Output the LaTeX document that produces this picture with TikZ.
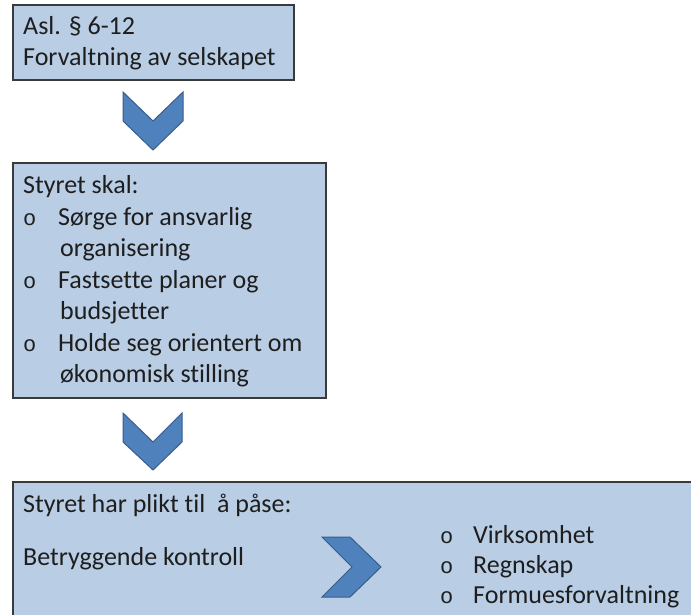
\documentclass[tikz,border=0pt]{standalone}
\usepackage{fontspec}
\setmainfont{Carlito}[Ligatures=NoCommon]
\newfontfamily\bulletfont{Liberation Mono}
\definecolor{boxfill}{HTML}{B9CDE5}
\definecolor{boxline}{HTML}{3A3A3A}
\definecolor{chevfill}{HTML}{4F81BD}
\definecolor{chevline}{HTML}{385D8A}
\definecolor{ink}{HTML}{1E1E1E}
\tikzset{
  panel/.style={draw=boxline, fill=boxfill, line width=1.5pt},
  chev/.style={draw=chevline, fill=chevfill, line width=1pt, line join=miter},
  txt/.style={anchor=base west, inner sep=0pt, text=ink, font=\fontsize{26}{31.5}\selectfont},
  bul/.style={anchor=base west, inner sep=0pt, text=ink, font=\bulletfont\fontsize{22}{24}\selectfont},
}
\begin{document}
\begin{tikzpicture}[x=1pt, y=-1pt]
\clip (0,0) rectangle (691,615);
\fill[white] (0,0) rectangle (691,615);

% first panel
\draw[panel] (13,5) rectangle (294,80);
\node[txt] (a1) at (23,34.5) {Asl. § 6-12};
\node[txt] (a2) at (23,66) {Forvaltning av selskapet};

% down chevron 1
\draw[chev] (123,92) -- (153,121) -- (183,92) -- (183,121) -- (153,150) -- (123,121) -- cycle;

% second panel
\draw[panel] (13,163) rectangle (326,398);
\node[txt] (b0) at (23,193.5) {Styret skal:};
\node[bul] (o1) at (23,225) {o};
\node[txt] (b1) at (58,225) {Sørge for ansvarlig};
\node[txt] (b1b) at (60,256.5) {organisering};
\node[bul] (o2) at (23,288) {o};
\node[txt] (b2) at (58,288) {Fastsette planer og};
\node[txt] (b2b) at (60,319.5) {budsjetter};
\node[bul] (o3) at (23,351) {o};
\node[txt] (b3) at (58,351) {Holde seg orientert om};
\node[txt] (b3b) at (60,382.5) {økonomisk stilling};

% down chevron 2
\draw[chev] (123,413) -- (153,442) -- (182,413) -- (182,442) -- (153,470) -- (123,442) -- cycle;

% third panel (runs past the right and bottom edges)
\draw[panel] (13,482) rectangle (720,650);
\node[txt] (c0) at (23,512) {Styret har plikt til\ \ å påse:};
\node[txt] (c1) at (23,565) {Betryggende kontroll};

% right chevron
\draw[chev] (322,537) -- (350,537) -- (381,567) -- (350,597) -- (322,597) -- (352,567) -- cycle;

\node[bul] (p1) at (440,543) {o};
\node[txt] (d1) at (473,543) {Virksomhet};
\node[bul] (p2) at (440,573) {o};
\node[txt] (d2) at (473,573) {Regnskap};
\node[bul] (p3) at (440,603) {o};
\node[txt] (d3) at (473,603) {Formuesforvaltning};
\end{tikzpicture}
\end{document}
